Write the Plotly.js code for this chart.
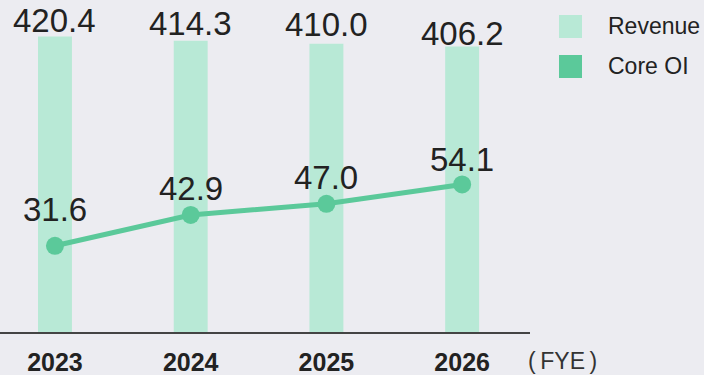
<!DOCTYPE html>
<html><head><meta charset="utf-8">
<script src="https://cdn.plot.ly/plotly-3.0.1.min.js"></script>
<style>html,body{margin:0;padding:0;background:#ECECF1;}</style>
</head><body><div id="chart" style="width:704px;height:375px;"></div>
<script>
// ---- data ----
const years = ['2023', '2024', '2025', '2026'];
const revenue = [420.4, 414.3, 410.0, 406.2];
const coreOI = [31.6, 42.9, 47.0, 54.1];
const seriesNames = ['Revenue', 'Core OI'];
const unitLabel = '(&#8201;FYE&#8201;)';

// ---- style ----
const BG = '#ECECF1';
const BAR = '#B8E9D6';
const LINE = '#5BC99A';
const TXT = '#222222';
const revShift = [15, 16, 18, 12];   // label offsets above bar tops (px)
const oiShift = [35, 25, 25, 24];    // label offsets above points (px)

const W = 704, H = 375, plotW = 530, plotH = 332;
const px2x = p => p / plotW;
const py2y = p => (plotH - p) / plotH;

const traces = [
  {type: 'bar', x: years, y: revenue, name: seriesNames[0], marker: {color: BAR}, width: 0.25,
   hoverinfo: 'skip', showlegend: false},
  {type: 'scatter', mode: 'lines+markers', x: years, y: coreOI, yaxis: 'y2', name: seriesNames[1],
   line: {color: LINE, width: 5}, marker: {color: LINE, size: 18}, hoverinfo: 'skip', showlegend: false}
];

const ann = [];
years.forEach((yr, i) => {
  ann.push({x: i, y: revenue[i], xref: 'x', yref: 'y', text: revenue[i].toFixed(1), showarrow: false,
    yanchor: 'middle', yshift: revShift[i] + 1, font: {family: 'Liberation Sans', size: 33, color: TXT}});
  ann.push({x: i, y: coreOI[i], xref: 'x', yref: 'y2', text: coreOI[i].toFixed(1), showarrow: false,
    yanchor: 'middle', yshift: oiShift[i] + 1, font: {family: 'Liberation Sans', size: 33, color: TXT}});
});
ann.push({x: px2x(526), y: py2y(361), xref: 'paper', yref: 'paper', xanchor: 'left', yanchor: 'middle',
  text: unitLabel, showarrow: false, font: {family: 'Liberation Sans', size: 23, color: '#333'}});
// custom legend
const legendRows = [{name: seriesNames[0], color: BAR, top: 15, mid: 26.5},
                    {name: seriesNames[1], color: LINE, top: 55, mid: 66}];
const shapes = [];
legendRows.forEach(r => {
  shapes.push({type: 'rect', xref: 'paper', yref: 'paper', x0: px2x(559), x1: px2x(582),
    y0: py2y(r.top), y1: py2y(r.top + 23), fillcolor: r.color, line: {width: 0}});
  ann.push({x: px2x(606), y: py2y(r.mid), xref: 'paper', yref: 'paper', xanchor: 'left', yanchor: 'middle',
    text: r.name, showarrow: false, font: {family: 'Liberation Sans', size: 23, color: TXT}});
});

const layout = {
  width: W, height: H,
  margin: {l: 0, r: W - plotW, t: 0, b: H - plotH, pad: 0},
  paper_bgcolor: BG, plot_bgcolor: BG,
  showlegend: false,
  xaxis: {type: 'category', range: [-0.405, 3.5], showgrid: false, zeroline: false,
    showline: true, linecolor: '#444', linewidth: 2, ticks: '', ticklabelstandoff: 7,
    tickfont: {family: 'Liberation Sans', size: 25, color: TXT, weight: 'bold'}},
  yaxis: {range: [0, 472.2], visible: false, showgrid: false, zeroline: false, fixedrange: true},
  yaxis2: {range: [0, 121.7], overlaying: 'y', visible: false, showgrid: false, zeroline: false},
  annotations: ann,
  shapes: shapes
};
Plotly.newPlot('chart', traces, layout, {displayModeBar: false, staticPlot: true});
</script></body></html>
